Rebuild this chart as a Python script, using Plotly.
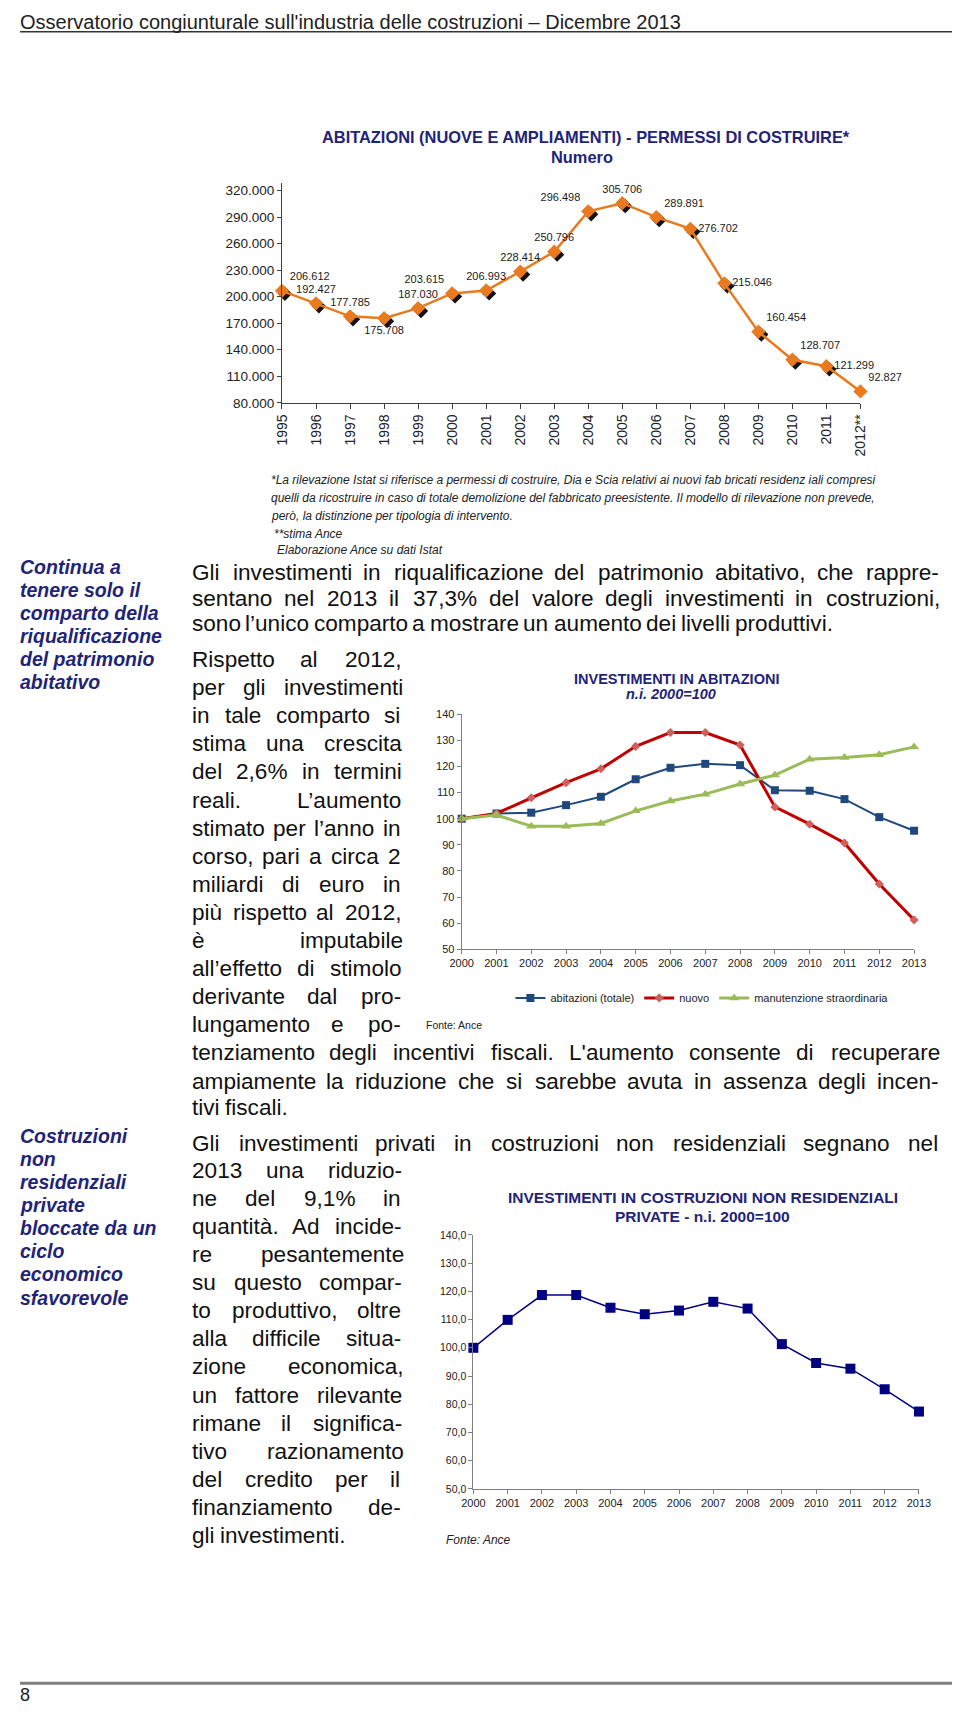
import plotly.graph_objects as go

W_PAGE, H_PAGE = 960, 1714
PAGE_OFFSET = 8  # the browser body margin pushes the figure 8px right/down
FONT = "Liberation Sans, Arial, sans-serif"
NAVY = "#1F2478"
ORANGE = "#EA7A1E"

# --- data -------------------------------------------------------------
anni_permessi = [str(a) for a in range(1995, 2012)] + ["2012**"]
permessi = [206612, 192427, 177785, 175708, 187030, 203615, 206993, 228414, 250796,
            296498, 305706, 289891, 276702, 215046, 160454, 128707, 121299, 92827]

anni = [str(a) for a in range(2000, 2014)]
abitazioni_totale = [100, 102.0, 102.3, 105.2, 108.4, 115.1, 119.5, 121.0, 120.5, 110.9, 110.7, 107.5, 100.6, 95.4]
nuovo = [100, 102.0, 108.0, 113.8, 119.1, 127.7, 133.0, 133.0, 128.2, 104.5, 97.9, 90.7, 75.0, 61.2]
manutenzione = [100, 101.4, 97.1, 97.1, 98.2, 103.0, 106.8, 109.4, 113.3, 116.7, 122.8, 123.4, 124.5, 127.5]
non_residenziali = [100.0, 109.9, 118.7, 118.7, 114.2, 111.9, 113.2, 116.3, 113.9, 101.3, 94.6, 92.6, 85.3, 77.4]

LABEL_POS = ["top right", "top center", "top center", "bottom center", "top center", "top left",
             "top center", "top center", "top center", "top left", "top center", "top right",
             "middle right", "middle right", "top right", "top right", "middle right", "top right"]

# --- text ---------------------------------------------------------------
PARA1 = [
    ("Gli investimenti in riqualificazione del patrimonio abitativo, che rappre-", 571, True),
    ("sentano nel 2013 il 37,3% del valore degli investimenti in costruzioni,", 597, True),
    ("sono l’unico comparto a mostrare un aumento dei livelli produttivi.", 623, False),
]
PARA2_NARROW = [
    "Rispetto al 2012,", "per gli investimenti", "in tale comparto si", "stima una crescita",
    "del 2,6% in termini", "reali. L’aumento", "stimato per l’anno in", "corso, pari a circa 2",
    "miliardi di euro in", "più rispetto al 2012,", "è imputabile", "all’effetto di stimolo",
    "derivante dal pro-", "lungamento e po-",
]
PARA2_WIDE = [
    ("tenziamento degli incentivi fiscali. L'aumento consente di recuperare", 1055, True),
    ("ampiamente la riduzione che si sarebbe avuta in assenza degli incen-", 1084, True),
    ("tivi fiscali.", 1111, False),
]
PARA3_FIRST = "Gli investimenti privati in costruzioni non residenziali segnano nel"
PARA3_NARROW = [
    "2013 una riduzio-", "ne del 9,1% in", "quantità. Ad incide-", "re pesantemente",
    "su questo compar-", "to produttivo, oltre", "alla difficile situa-", "zione economica,",
    "un fattore rilevante", "rimane il significa-", "tivo razionamento", "del credito per il",
    "finanziamento de-", "gli investimenti.",
]
SIDE1 = ["Continua a", "tenere solo il", "comparto della", "riqualificazione", "del patrimonio", "abitativo"]
SIDE2 = ["Costruzioni", "non", "residenziali", "private", "bloccate da un", "ciclo", "economico", "sfavorevole"]
NOTE = [
    "*La rilevazione Istat si riferisce a permessi di costruire, Dia e Scia relativi ai nuovi fab bricati residenz iali compresi",
    "quelli da ricostruire in caso di totale demolizione del fabbricato preesistente. Il modello di rilevazione non prevede,",
    "però, la distinzione per tipologia di intervento.",
]

# Arial advance widths (1/1000 em), used to justify lines
WIDTHS = {}
for chars, w in [("'", 191), ("ijl’", 222), (" ftI.,:;!/ì", 278), ("r-()", 333), ("*", 389),
                 ("cksvxyzJ", 500), ("abdeghnopquàèéòùL0123456789", 556), ("=+", 584),
                 ("FTZ", 611), ("ABEKPSVXY", 667), ("CDHNRUw", 722), ("GOQ", 778),
                 ("mM", 833), ("%", 889), ("W", 944)]:
    for c in chars:
        WIDTHS[c] = w


def px(x):
    return (x - PAGE_OFFSET) / W_PAGE


def py(y):
    return 1 - (y - PAGE_OFFSET) / H_PAGE


annotations = []


def note(text, x, y, size, color="#111111", xanchor="left"):
    annotations.append(dict(text=text, x=px(x), y=py(y), xref="paper", yref="paper",
                            xanchor=xanchor, yanchor="middle", showarrow=False,
                            borderpad=0, borderwidth=0,
                            font=dict(family=FONT, size=size, color=color)))


def body_line(text, y, x0, x1, justify, size=22.6):
    words = text.split()
    widths = [sum(WIDTHS.get(c, 556) for c in w) * size / 1000 for w in words]
    if justify and len(words) > 1:
        gap = (x1 - x0 - sum(widths)) / (len(words) - 1)
    else:
        gap = 278 * size / 1000
    x = x0
    for w, wd in zip(words, widths):
        note(w, x, y, size)
        x += wd + gap


X0, X_NARROW, X_WIDE = 184, 398, 949
for text, y, j in PARA1:
    body_line(text, y, X0, X_WIDE, j)
for i, text in enumerate(PARA2_NARROW):
    body_line(text, 659 + i * 28.3, X0, X_NARROW, True)
for text, y, j in PARA2_WIDE:
    body_line(text, y, X0, X_WIDE, j)
body_line(PARA3_FIRST, 1147, X0, X_WIDE, True)
for i, text in enumerate(PARA3_NARROW):
    body_line(text, 1174 + i * 28.3, X0, X_NARROW, i < len(PARA3_NARROW) - 1)

for i, t in enumerate(SIDE1):
    note(f"<b><i>{t}</i></b>", 8, 566 + i * 23, 19.5, NAVY)
for i, t in enumerate(SIDE2):
    note(f"<b><i>{t}</i></b>", 8, 1139 + i * 23.3, 19.5, NAVY)

for i, t in enumerate(NOTE):
    note(f"<i>{t}</i>", 265, 478 + i * 18, 12, "#222222")
note("<i>**stima Ance</i>", 268, 532, 12, "#222222")
note("<i>Elaborazione Ance su dati Istat</i>", 272, 548, 12, "#222222")

# page header / footer
note("Osservatorio congiunturale sull'industria delle costruzioni – Dicembre 2013", 8, 16, 20, "#222222")
note("8", 8, 1703, 18, "#222222")

# chart titles and sources
note("<b>ABITAZIONI (NUOVE E AMPLIAMENTI) - PERMESSI DI COSTRUIRE*</b>", 588, 132, 16.4, NAVY, "center")
note("<b>Numero</b>", 584, 152, 16.4, NAVY, "center")
note("<b>INVESTIMENTI IN ABITAZIONI</b>", 681, 678, 14.5, NAVY, "center")
note("<b><i>n.i. 2000=100</i></b>", 676, 694, 14.5, NAVY, "center")
note("Fonte: Ance", 424, 1027, 10.5, "#222222")
note("<b>INVESTIMENTI IN COSTRUZIONI NON RESIDENZIALI</b>", 708, 1201, 15.5, NAVY, "center")
note("<b>PRIVATE - n.i. 2000=100</b>", 708, 1220, 15.5, NAVY, "center")
note("<i>Fonte: Ance</i>", 445, 1547, 12, "#222222")

# --- figure -------------------------------------------------------------
fig = go.Figure()

# top chart: black shadow under the diamonds, drawn on a hidden axis pair shifted by 3px
fig.add_trace(go.Scatter(
    x=anni_permessi, y=permessi, mode="markers", xaxis="x", yaxis="y",
    marker=dict(symbol="diamond", size=11, color="#111111"),
    showlegend=False, cliponaxis=False, hoverinfo="skip",
))

# middle chart
fig.add_trace(go.Scatter(
    x=anni, y=abitazioni_totale, name="abitazioni (totale)", xaxis="x2", yaxis="y2",
    mode="lines+markers", line=dict(color="#1F497D", width=2),
    marker=dict(symbol="square", size=8, color="#1F497D"), cliponaxis=False,
))
fig.add_trace(go.Scatter(
    x=anni, y=nuovo, name="nuovo", xaxis="x2", yaxis="y2",
    mode="lines+markers", line=dict(color="#C00000", width=3),
    marker=dict(symbol="diamond", size=7, color="#D0605D"), cliponaxis=False,
))
fig.add_trace(go.Scatter(
    x=anni, y=manutenzione, name="manutenzione straordinaria", xaxis="x2", yaxis="y2",
    mode="lines+markers", line=dict(color="#9BBB59", width=3),
    marker=dict(symbol="triangle-up", size=9, color="#9BBB59"), cliponaxis=False,
))

# bottom chart
fig.add_trace(go.Scatter(
    x=anni, y=non_residenziali, xaxis="x3", yaxis="y3", showlegend=False,
    mode="lines+markers", line=dict(color="#000080", width=1.5),
    marker=dict(symbol="square", size=10, color="#000080"), cliponaxis=False,
))

# top chart: orange series with labels on the visible axes (drawn above the shadow)
fig.add_trace(go.Scatter(
    x=anni_permessi, y=permessi, mode="lines+markers+text", xaxis="x4", yaxis="y4",
    line=dict(color=ORANGE, width=2.5),
    marker=dict(symbol="diamond", size=11, color=ORANGE),
    texttemplate="%{y:,.0f}", textposition=LABEL_POS,
    textfont=dict(family=FONT, size=11, color="#1a1a1a"),
    showlegend=False, cliponaxis=False,
))

# top chart geometry: 80.000 sits at y=400, 320.000 at y=186; axis line runs a little above
PX_PER_UNIT = (400 - 186) / 240000
Y_TOP_MAX = 328000
TOP_X = [px(276.7), px(870)]
TOP_Y = [py(400), py(400 - (Y_TOP_MAX - 80000) * PX_PER_UNIT)]
DX = 3 / ((870 - 276.7) / 17)
DY = 3 / PX_PER_UNIT


def axis(**kw):
    base = dict(showgrid=False, zeroline=False, showline=True, linecolor="#404040", linewidth=1,
                ticks="outside", tickcolor="#404040", tickfont=dict(family=FONT, color="#222222"))
    base.update(kw)
    return base


fig.update_layout(
    width=W_PAGE, height=H_PAGE,
    margin=dict(l=0, r=0, t=0, b=0),
    paper_bgcolor="white", plot_bgcolor="rgba(0,0,0,0)",
    separators=",.",
    font=dict(family=FONT, color="#222222"),
    xaxis=dict(visible=False, domain=TOP_X, type="category", range=[-DX, 17 - DX], anchor="y"),
    yaxis=dict(visible=False, domain=TOP_Y, range=[80000 + DY, Y_TOP_MAX + DY], anchor="x"),
    xaxis4=axis(domain=TOP_X, range=[0, 17], type="category", tickangle=-90, ticklen=5,
                tickfont=dict(family=FONT, size=14, color="#222222"), anchor="y4"),
    yaxis4=axis(domain=TOP_Y, range=[80000, Y_TOP_MAX], tick0=80000, dtick=30000,
                tickformat=",.0f", ticklen=4,
                tickfont=dict(family=FONT, size=13.5, color="#222222"), anchor="x4"),
    xaxis2=axis(domain=[px(461), px(925)], range=[0, 13], type="category", ticklen=4,
                linecolor="#808080", tickcolor="#808080",
                tickfont=dict(family=FONT, size=11, color="#222222"), anchor="y2"),
    yaxis2=axis(domain=[py(951), py(714)], range=[50, 140], dtick=10, ticklen=4,
                linecolor="#808080", tickcolor="#808080",
                tickfont=dict(family=FONT, size=11, color="#222222"), anchor="x2"),
    xaxis3=axis(domain=[px(473), px(930)], range=[0, 13], type="category", ticklen=4,
                linecolor="#808080", tickcolor="#808080",
                tickfont=dict(family=FONT, size=11, color="#222222"), anchor="y3"),
    yaxis3=axis(domain=[py(1495), py(1239)], range=[50, 140], dtick=10, tickformat=".1f", ticklen=4,
                linecolor="#808080", tickcolor="#808080",
                tickfont=dict(family=FONT, size=10.5, color="#222222"), anchor="x3"),
    legend=dict(orientation="h", x=px(511), y=py(1000), xanchor="left", yanchor="middle",
                font=dict(family=FONT, size=11, color="#222222"), bgcolor="rgba(0,0,0,0)",
                itemwidth=30),
    annotations=annotations,
    shapes=[
        dict(type="line", xref="paper", yref="paper", x0=0, x1=1, y0=py(26), y1=py(26),
             line=dict(color="#333333", width=1.5)),
        dict(type="line", xref="paper", yref="paper", x0=0, x1=1, y0=py(1691), y1=py(1691),
             line=dict(color="#808080", width=3)),
    ],
)

fig.write_html("out.html")
